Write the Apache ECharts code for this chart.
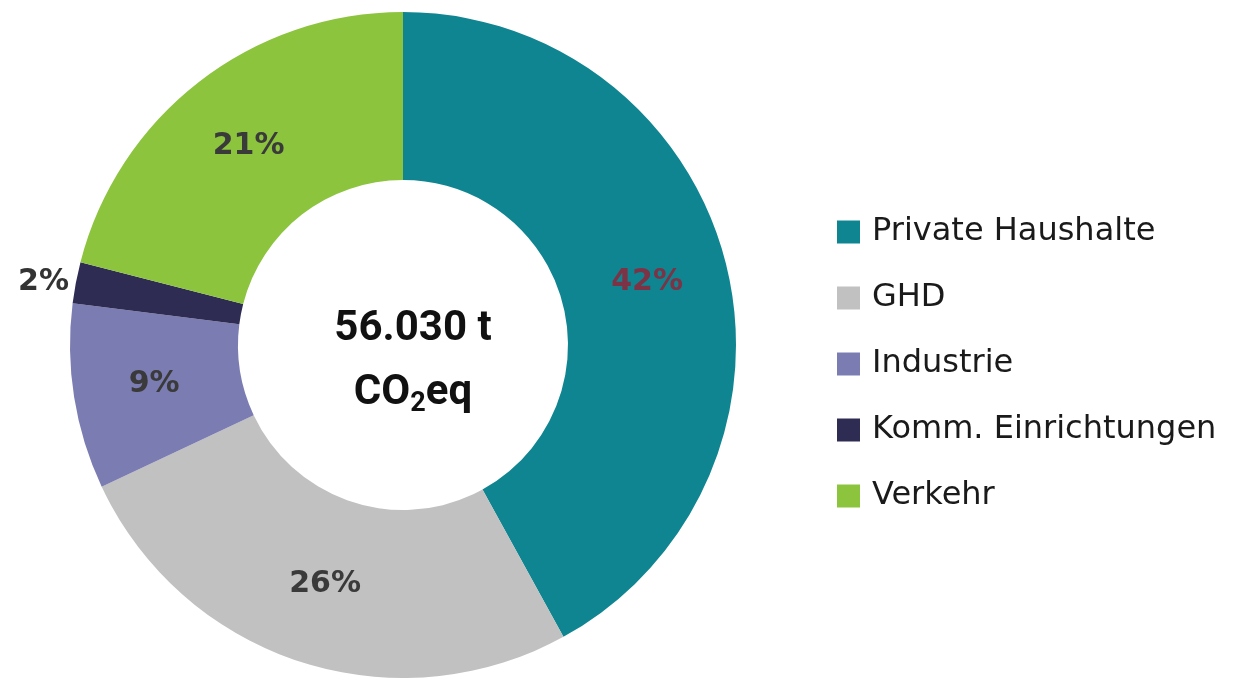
<!DOCTYPE html>
<html>
<head>
<meta charset="utf-8">
<script src="https://cdn.jsdelivr.net/npm/echarts@6/dist/echarts.min.js"></script>
<style>
  html, body { margin: 0; padding: 0; background: #fff; }
  #chart { width: 1258px; height: 679px; }
</style>
</head>
<body>
<div id="chart"></div>
<script>
// Anteile der Sektoren in Prozent
const categories = ['Private Haushalte', 'GHD', 'Industrie', 'Komm. Einrichtungen', 'Verkehr'];
const values = [42, 26, 9, 2, 21];
const colors = ['#0f8591', '#c1c1c1', '#7b7cb2', '#2e2c52', '#8cc43e'];
const totalLine = '56.030 t';

const chart = echarts.init(document.getElementById('chart'));

const pieData = categories.map((name, i) => {
  const item = { name: name, value: values[i], itemStyle: { color: colors[i] } };
  if (i === 0) {
    // das Label auf Teal ist rotbraun
    item.label = { color: '#7d3346' };
  }
  if (values[i] < 5) {
    item.label = { position: 'outside', color: '#333' };
    item.labelLine = { show: false, length: 2, length2: 0 };
  }
  return item;
});

chart.setOption({
  backgroundColor: '#fff',
  animation: false,
  legend: {
    orient: 'vertical',
    left: 837,
    top: 216,
    padding: 0,
    icon: 'rect',
    itemWidth: 23,
    itemHeight: 23,
    itemGap: 34,
    data: categories,
    textStyle: {
      fontFamily: 'DejaVu Sans',
      fontSize: 32,
      color: '#1a1a1a',
      padding: [2, 0, 0, 7]
    }
  },
  graphic: [{
    type: 'text',
    x: 413,
    y: 361,
    z: 100,
    style: {
      text: '{a|' + totalLine + '}\n{a|CO}{s|2}{a|eq}',
      align: 'center',
      verticalAlign: 'middle',
      rich: {
        a: { fontFamily: 'Roboto', fontWeight: 'bold', fontSize: 42, lineHeight: 64, fill: '#111' },
        s: { fontFamily: 'Roboto', fontWeight: 'bold', fontSize: 27, lineHeight: 64, fill: '#111', padding: [22, 0, 0, 0] }
      }
    }
  }],
  series: [{
    type: 'pie',
    center: [403, 345],
    radius: [165, 333],
    startAngle: 90,
    clockwise: true,
    avoidLabelOverlap: false,
    label: {
      show: true,
      position: 'inside',
      formatter: '{c}%',
      fontFamily: 'DejaVu Sans',
      fontWeight: 'bold',
      fontSize: 30,
      color: '#3a3a3a'
    },
    labelLine: { show: false },
    emphasis: { disabled: true },
    data: pieData
  }]
});
</script>
</body>
</html>
